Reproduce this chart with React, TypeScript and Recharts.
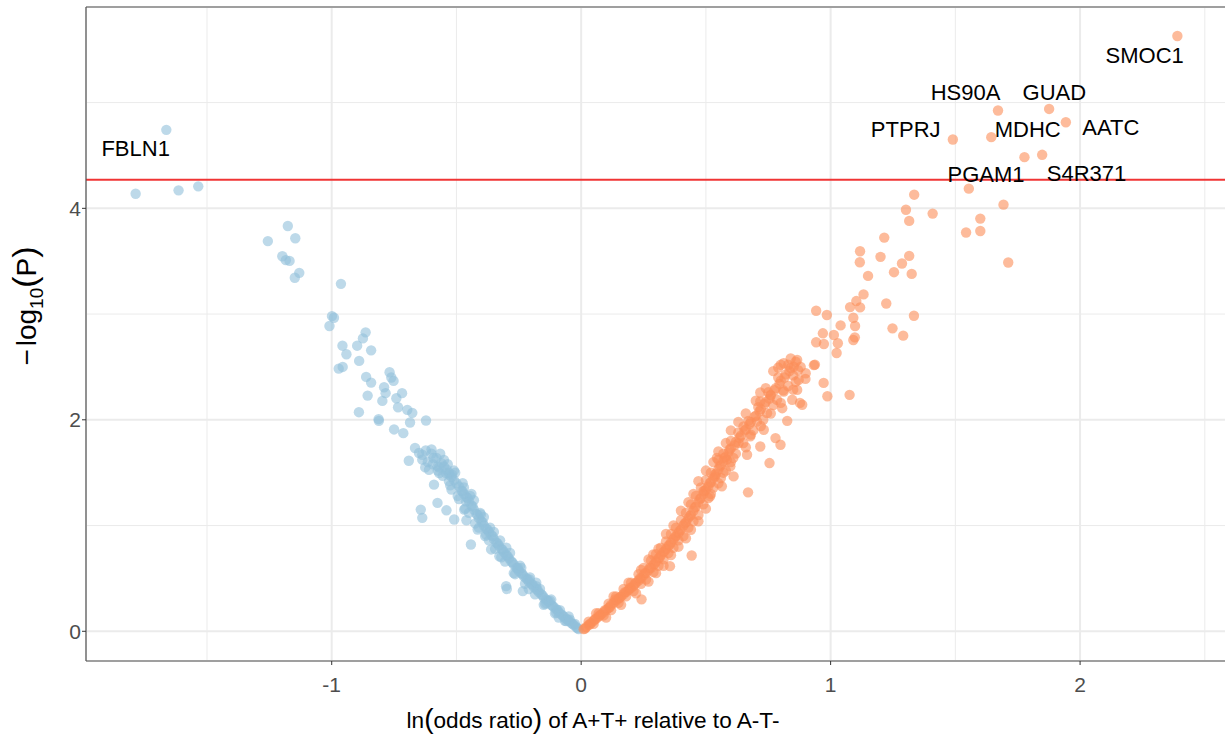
import {
  ScatterChart,
  Scatter,
  XAxis,
  YAxis,
  CartesianGrid,
  ReferenceLine,
  Label,
} from "recharts";

// ln(odds ratio) / -log10(P), A+T+ relative to A-T- (down = blue, up = orange)
const downPoints: [number, number][] = [
  [-1.663, 4.742], [-1.786, 4.138], [-1.614, 4.17], [-1.535, 4.208],
  [-1.256, 3.69], [-1.176, 3.833], [-1.146, 3.717], [-1.198, 3.547], [-1.184, 3.51], [-1.169, 3.503],
  [-1.13, 3.39], [-1.148, 3.343], [-0.963, 3.286],
  [-0.999, 2.981], [-0.991, 2.965], [-1.009, 2.887], [-0.864, 2.827], [-0.875, 2.77], [-0.898, 2.701],
  [-0.957, 2.701], [-0.941, 2.62], [-0.842, 2.657], [-0.89, 2.557], [-0.972, 2.484], [-0.956, 2.5],
  [-0.768, 2.45], [-0.761, 2.4], [-0.752, 2.368], [-0.862, 2.406], [-0.842, 2.352], [-0.79, 2.308],
  [-0.784, 2.252], [-0.718, 2.252], [-0.856, 2.229], [-0.797, 2.179], [-0.741, 2.204], [-0.734, 2.119],
  [-0.697, 2.094], [-0.677, 2.066], [-0.891, 2.072], [-0.812, 2.006], [-0.811, 1.99], [-0.686, 1.975],
  [-0.622, 1.993], [-0.75, 1.909], [-0.713, 1.874], [-0.666, 1.733], [-0.65, 1.686], [-0.623, 1.71],
  [-0.691, 1.613], [-0.565, 1.679], [-0.637, 1.623], [-0.592, 1.639], [-0.61, 1.528], [-0.576, 1.56],
  [-0.542, 1.497], [-0.518, 1.481], [-0.637, 1.67], [-0.643, 1.151], [-0.637, 1.073], [-0.576, 1.214],
  [-0.54, 1.144], [-0.59, 1.387], [-0.569, 1.497], [-0.529, 1.481], [-0.509, 1.057], [-0.476, 1.324],
  [-0.462, 1.229], [-0.469, 1.151], [-0.442, 0.821], [-0.402, 1.104], [-0.415, 0.962], [-0.381, 0.915],
  [-0.361, 0.774], [-0.328, 0.71], [-0.301, 0.427], [-0.298, 0.4], [-0.254, 0.601], [-0.234, 0.38],
  [-0.207, 0.49], [-0.18, 0.427], [-0.14, 0.27], [-0.1, 0.176], [-0.06, 0.097],
  // dense band
  [-0.01, 0.02], [-0.015, 0.03], [-0.02, 0.04], [-0.03, 0.06], [-0.035, 0.07], [-0.04, 0.08], [-0.05, 0.1],
  [-0.055, 0.11], [-0.06, 0.12], [-0.07, 0.14], [-0.075, 0.15], [-0.08, 0.16], [-0.09, 0.18], [-0.095, 0.2],
  [-0.1, 0.21], [-0.11, 0.23], [-0.115, 0.24], [-0.12, 0.25], [-0.13, 0.28], [-0.135, 0.29], [-0.14, 0.3],
  [-0.15, 0.32], [-0.155, 0.34], [-0.16, 0.35], [-0.17, 0.37], [-0.175, 0.39], [-0.18, 0.4], [-0.19, 0.42],
  [-0.195, 0.44], [-0.2, 0.45], [-0.21, 0.47], [-0.215, 0.49], [-0.22, 0.5], [-0.23, 0.52], [-0.235, 0.54],
  [-0.24, 0.55], [-0.25, 0.57], [-0.255, 0.59], [-0.26, 0.6], [-0.27, 0.63], [-0.275, 0.65], [-0.28, 0.66],
  [-0.29, 0.69], [-0.295, 0.71], [-0.3, 0.72], [-0.31, 0.75], [-0.315, 0.77], [-0.32, 0.78], [-0.33, 0.81],
  [-0.335, 0.83], [-0.34, 0.84], [-0.35, 0.87], [-0.355, 0.9], [-0.36, 0.91], [-0.37, 0.94], [-0.375, 0.96],
  [-0.38, 0.97], [-0.39, 1.0], [-0.395, 1.03], [-0.4, 1.04], [-0.41, 1.07], [-0.415, 1.1], [-0.42, 1.11],
  [-0.43, 1.15], [-0.435, 1.18], [-0.44, 1.19], [-0.45, 1.23], [-0.455, 1.26], [-0.46, 1.27], [-0.47, 1.3],
  [-0.48, 1.33], [-0.49, 1.37], [-0.5, 1.4], [-0.51, 1.43], [-0.52, 1.46], [-0.53, 1.5], [-0.54, 1.53],
  [-0.55, 1.56], [-0.56, 1.59], [-0.58, 1.64], [-0.6, 1.68],
  [-0.025, 0.07], [-0.045, 0.11], [-0.065, 0.1], [-0.085, 0.2], [-0.105, 0.17], [-0.125, 0.29], [-0.145, 0.26],
  [-0.165, 0.4], [-0.185, 0.35], [-0.205, 0.51], [-0.225, 0.45], [-0.245, 0.62], [-0.265, 0.54], [-0.285, 0.74],
  [-0.305, 0.66], [-0.325, 0.86], [-0.345, 0.78], [-0.365, 0.98], [-0.385, 0.9], [-0.405, 1.12], [-0.425, 1.02],
  [-0.445, 1.28], [-0.465, 1.16], [-0.475, 1.4], [-0.495, 1.28], [-0.505, 1.5], [-0.525, 1.38], [-0.535, 1.58],
  [-0.555, 1.47], [-0.575, 1.52], [-0.595, 1.58], [-0.615, 1.6], [-0.625, 1.55],
  [-0.05, 0.14], [-0.09, 0.13], [-0.12, 0.3], [-0.15, 0.25], [-0.18, 0.46], [-0.21, 0.4], [-0.24, 0.6],
  [-0.27, 0.55], [-0.3, 0.79], [-0.32, 0.7], [-0.35, 0.94], [-0.37, 0.86], [-0.39, 1.08], [-0.41, 0.98],
  [-0.43, 1.24], [-0.45, 1.12], [-0.47, 1.36], [-0.49, 1.25], [-0.51, 1.52], [-0.53, 1.42], [-0.55, 1.62],
  [-0.57, 1.55], [-0.6, 1.72], [-0.52, 1.34], [-0.46, 1.05], [-0.44, 1.3],
];

const upPoints: [number, number][] = [
  [2.39, 5.63], [1.671, 4.925], [1.876, 4.94], [1.943, 4.814], [1.49, 4.651], [1.644, 4.673],
  [1.777, 4.484], [1.848, 4.506], [1.554, 4.186], [1.693, 4.035], [1.335, 4.129], [1.302, 3.987],
  [1.315, 3.881], [1.409, 3.95], [1.6, 3.903], [1.543, 3.771], [1.6, 3.786], [1.712, 3.488], [1.215, 3.723],
  [1.118, 3.594], [1.117, 3.49], [1.2, 3.541], [1.315, 3.55], [1.286, 3.478], [1.254, 3.396], [1.325, 3.38],
  [1.15, 3.361], [1.132, 3.186], [1.103, 3.123], [1.078, 3.066], [1.118, 3.063], [1.223, 3.1], [1.334, 2.984],
  [0.942, 3.031], [0.985, 2.991], [1.091, 2.965], [1.04, 2.893], [1.098, 2.887], [1.248, 2.865], [1.291, 2.796],
  [0.969, 2.818], [1.013, 2.802], [0.942, 2.733], [0.973, 2.717], [1.029, 2.724], [1.091, 2.755], [1.097, 2.78],
  [1.024, 2.632], [0.937, 2.522], [0.972, 2.349], [0.987, 2.223], [1.076, 2.236], [0.933, 2.517],
  [0.852, 2.503], [0.79, 2.494], [0.812, 2.535], [0.866, 2.566], [0.899, 2.387], [0.872, 2.377], [0.866, 2.283],
  [0.886, 2.142], [0.846, 2.189], [0.812, 2.267], [0.785, 2.189], [0.806, 2.11], [0.826, 1.99], [0.759, 2.236],
  [0.718, 2.258], [0.718, 2.173], [0.745, 2.063], [0.705, 1.984], [0.651, 1.937], [0.732, 1.906], [0.779, 1.827],
  [0.799, 1.764], [0.678, 1.843], [0.631, 1.78], [0.718, 1.748], [0.665, 1.67], [0.755, 1.591], [0.598, 1.56],
  [0.544, 1.639], [0.584, 1.623], [0.611, 1.465], [0.537, 1.465], [0.564, 1.371], [0.669, 1.314], [0.49, 1.324],
  [0.517, 1.276], [0.85, 2.285], [0.877, 2.16], [0.443, 0.717], [0.356, 0.616], [0.242, 0.302], [0.289, 0.726],
  // dense band
  [0.01, 0.02], [0.02, 0.04], [0.03, 0.06], [0.04, 0.08], [0.05, 0.1], [0.06, 0.12], [0.07, 0.14], [0.08, 0.16],
  [0.09, 0.18], [0.1, 0.2], [0.11, 0.22], [0.12, 0.25], [0.13, 0.27], [0.14, 0.29], [0.15, 0.31], [0.16, 0.33],
  [0.17, 0.35], [0.18, 0.37], [0.19, 0.39], [0.2, 0.41], [0.21, 0.43], [0.22, 0.46], [0.23, 0.48], [0.24, 0.5],
  [0.25, 0.53], [0.26, 0.55], [0.27, 0.58], [0.28, 0.6], [0.29, 0.63], [0.3, 0.66], [0.31, 0.69], [0.32, 0.72],
  [0.33, 0.75], [0.34, 0.78], [0.35, 0.81], [0.36, 0.84], [0.37, 0.87], [0.38, 0.9], [0.39, 0.93], [0.4, 0.96],
  [0.41, 1.0], [0.42, 1.03], [0.43, 1.07], [0.44, 1.1], [0.45, 1.14], [0.46, 1.18], [0.47, 1.22], [0.48, 1.26],
  [0.49, 1.3], [0.5, 1.34], [0.51, 1.37], [0.52, 1.41], [0.53, 1.45], [0.54, 1.49], [0.55, 1.53], [0.56, 1.57],
  [0.57, 1.61], [0.58, 1.65], [0.59, 1.69], [0.6, 1.73], [0.62, 1.79], [0.64, 1.85], [0.66, 1.91], [0.68, 1.98],
  [0.7, 2.04], [0.72, 2.1], [0.74, 2.17], [0.76, 2.23], [0.78, 2.3], [0.8, 2.37], [0.82, 2.43], [0.84, 2.49],
  [0.03, 0.09], [0.05, 0.07], [0.07, 0.17], [0.09, 0.15], [0.11, 0.26], [0.12, 0.2], [0.14, 0.33], [0.15, 0.27],
  [0.17, 0.4], [0.18, 0.33], [0.2, 0.46], [0.21, 0.38], [0.23, 0.54], [0.24, 0.45], [0.25, 0.6], [0.26, 0.49],
  [0.28, 0.67], [0.29, 0.56], [0.3, 0.73], [0.31, 0.62], [0.32, 0.79], [0.33, 0.68], [0.34, 0.85], [0.35, 0.74],
  [0.36, 0.92], [0.37, 0.79], [0.38, 0.98], [0.39, 0.86], [0.4, 1.05], [0.41, 0.9], [0.42, 1.12], [0.43, 0.98],
  [0.44, 1.2], [0.45, 1.04], [0.46, 1.28], [0.47, 1.1], [0.48, 1.36], [0.49, 1.2], [0.5, 1.43], [0.51, 1.26],
  [0.52, 1.5], [0.53, 1.36], [0.55, 1.62], [0.56, 1.45], [0.57, 1.68], [0.58, 1.52], [0.6, 1.8], [0.61, 1.64],
  [0.63, 1.88], [0.65, 1.78], [0.67, 1.99], [0.69, 1.9], [0.71, 2.12], [0.73, 2.0], [0.75, 2.26], [0.77, 2.14],
  [0.79, 2.4], [0.81, 2.28], [0.83, 2.52], [0.85, 2.42], [0.86, 2.55], [0.87, 2.47],
  [0.015, 0.025], [0.035, 0.065], [0.055, 0.115], [0.075, 0.15], [0.095, 0.2], [0.115, 0.23], [0.135, 0.3],
  [0.155, 0.32], [0.175, 0.37], [0.195, 0.41], [0.215, 0.45], [0.235, 0.5], [0.255, 0.55], [0.275, 0.6],
  [0.295, 0.64], [0.315, 0.7], [0.335, 0.76], [0.355, 0.82], [0.375, 0.89], [0.395, 0.95], [0.415, 1.02],
  [0.435, 1.09], [0.455, 1.17], [0.475, 1.25], [0.495, 1.33], [0.515, 1.4], [0.535, 1.48], [0.555, 1.56],
  [0.575, 1.64], [0.595, 1.72], [0.615, 1.76], [0.635, 1.83], [0.655, 1.9], [0.675, 1.96], [0.695, 2.03],
  [0.715, 2.08], [0.735, 2.15], [0.755, 2.2], [0.775, 2.28], [0.795, 2.34], [0.815, 2.4], [0.835, 2.46],
  [0.06, 0.17], [0.1, 0.13], [0.13, 0.33], [0.16, 0.25], [0.19, 0.46], [0.22, 0.36], [0.24, 0.58], [0.27, 0.47],
  [0.27, 0.68], [0.3, 0.55], [0.31, 0.78], [0.33, 0.62], [0.34, 0.92], [0.36, 0.72], [0.37, 1.0], [0.39, 0.8],
  [0.4, 1.14], [0.42, 0.88], [0.43, 1.22], [0.44, 0.96], [0.45, 1.3], [0.47, 1.04], [0.47, 1.42], [0.5, 1.16],
  [0.5, 1.52], [0.52, 1.3], [0.53, 1.6], [0.55, 1.4], [0.55, 1.7], [0.57, 1.5], [0.58, 1.78], [0.6, 1.6],
  [0.6, 1.9], [0.62, 1.68], [0.63, 1.98], [0.66, 1.74], [0.66, 2.06], [0.68, 1.86], [0.7, 2.18], [0.72, 1.94],
  [0.74, 2.3], [0.76, 2.06], [0.77, 2.46], [0.8, 2.16], [0.8, 2.52], [0.83, 2.32], [0.84, 2.58], [0.86, 2.36],
  [0.88, 2.5], [0.9, 2.44],
];

// gene labels (placed where ggrepel put them)
const geneNames = ["FBLN1", "SMOC1", "HS90A", "GUAD", "PTPRJ", "MDHC", "AATC", "PGAM1", "S4R371"];
const geneLabelX = [-1.786, 2.259, 1.541, 1.897, 1.301, 1.79, 2.123, 1.623, 2.026];
const geneLabelY = [4.569, 5.451, 5.095, 5.101, 4.749, 4.749, 4.764, 4.328, 4.333];

const threshold = 4.27;

const xTicks = [-1, 0, 1, 2];
const xMinor = [-1.5, -0.5, 0.5, 1.5, 2.5];
const yTicks = [0, 2, 4];
const yMinor = [1, 3, 5];
const xDomain = [-1.985, 2.605];
const yDomain = [-0.281, 5.904];

const FONT = "'Liberation Sans', Arial, Helvetica, sans-serif";

const downData = downPoints.map(([x, y]) => ({ x, y }));
const upData = upPoints.map(([x, y]) => ({ x, y }));
const labelData = geneNames.map((name, i) => ({ x: geneLabelX[i], y: geneLabelY[i], name }));

const dot = (color: string) => (props: any) => (
  <circle cx={props.cx} cy={props.cy} r={5.2} fill={color} fillOpacity={0.6} />
);

const geneText = (props: any) => (
  <text
    x={props.cx}
    y={props.cy}
    dy="0.36em"
    textAnchor="middle"
    fontSize={22}
    fill="#000"
    fontFamily={FONT}
  >
    {props.payload.name}
  </text>
);

const XTitle = (props: any) => {
  const vb = props.viewBox;
  return (
    <text x={vb.x + 507} y={vb.y + 67} textAnchor="middle" fontSize={22.6} fill="#000" fontFamily={FONT}>
      <tspan>ln</tspan>
      <tspan fontSize={28}>(</tspan>
      <tspan>odds ratio</tspan>
      <tspan fontSize={28}>)</tspan>
      <tspan> of A+T+ relative to A-T-</tspan>
    </text>
  );
};

const YTitle = (props: any) => {
  const vb = props.viewBox;
  const cx = vb.x + 36;
  const cy = 306;
  return (
    <text
      x={cx}
      y={cy}
      transform={`rotate(-90, ${cx}, ${cy})`}
      textAnchor="middle"
      fontSize={28}
      fill="#000"
      fontFamily={FONT}
    >
      <tspan>−</tspan>
      <tspan dx={3}>log</tspan>
      <tspan fontSize={19} dy={7}>10</tspan>
      <tspan fontSize={34} dy={-7}>(</tspan>
      <tspan>P</tspan>
      <tspan fontSize={34}>)</tspan>
    </text>
  );
};

const App = () => {
  return (
    <div
      style={{
        position: "absolute",
        left: 0,
        top: 0,
        width: 1225,
        height: 740,
        overflow: "hidden",
        background: "#fff",
        fontFamily: FONT,
      }}
    >
      <ScatterChart width={1231} height={740} margin={{ top: 7, right: 0, bottom: 0, left: 0 }}>
        <XAxis xAxisId="minor" type="number" dataKey="x" domain={xDomain} ticks={xMinor} hide allowDataOverflow />
        <YAxis yAxisId="minor" type="number" dataKey="y" domain={yDomain} ticks={yMinor} hide allowDataOverflow />
        <CartesianGrid xAxisId="minor" yAxisId="minor" stroke="#EBEBEB" strokeWidth={1} />
        <CartesianGrid stroke="#EBEBEB" strokeWidth={2} />
        <XAxis
          type="number"
          dataKey="x"
          domain={xDomain}
          ticks={xTicks}
          allowDataOverflow
          height={79}
          axisLine={{ stroke: "#555", strokeWidth: 1.2 }}
          tickLine={{ stroke: "#333" }}
          tickSize={4}
          tickMargin={12}
          tick={{ fontSize: 21, fill: "#4D4D4D", fontFamily: FONT }}
        >
          <Label content={XTitle} />
        </XAxis>
        <YAxis
          type="number"
          dataKey="y"
          domain={yDomain}
          ticks={yTicks}
          allowDataOverflow
          width={86}
          axisLine={{ stroke: "#555", strokeWidth: 1.2 }}
          tickLine={{ stroke: "#333" }}
          tickSize={4}
          tickMargin={1}
          tick={{ fontSize: 21, fill: "#4D4D4D", fontFamily: FONT }}
        >
          <Label content={YTitle} />
        </YAxis>
        <ReferenceLine y={yDomain[1]} stroke="#555" strokeWidth={1.2} />
        <Scatter data={downData} shape={dot("#91BFDB")} isAnimationActive={false} />
        <Scatter data={upData} shape={dot("#FC8D59")} isAnimationActive={false} />
        <ReferenceLine y={threshold} stroke="#F03434" strokeWidth={2} />
        <Scatter data={labelData} shape={geneText} isAnimationActive={false} />
      </ScatterChart>
    </div>
  );
};

export default App;
